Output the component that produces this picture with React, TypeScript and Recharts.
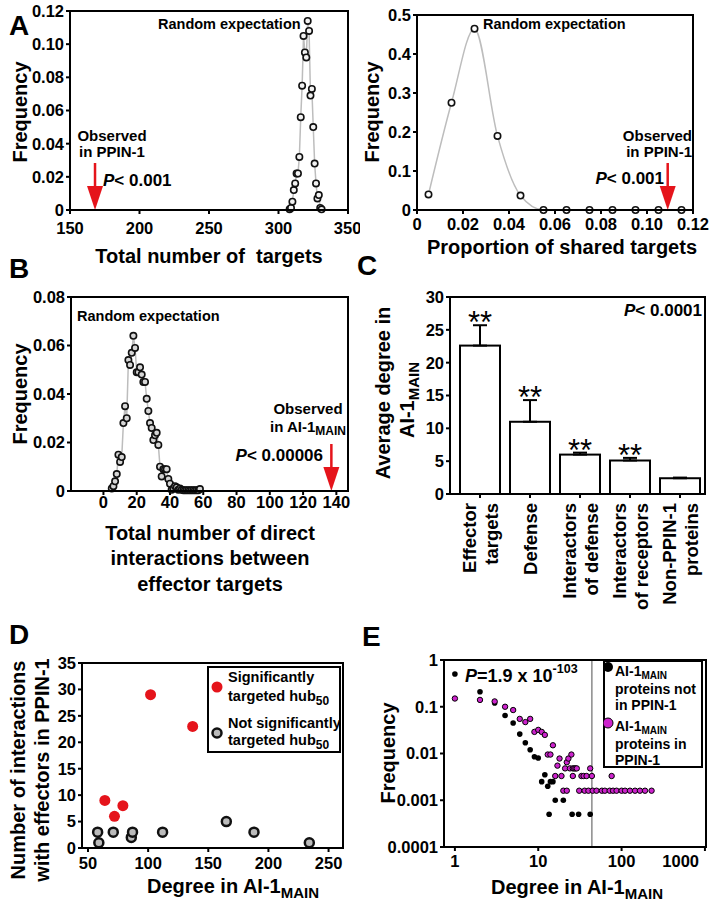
import React from "react";
import { ComposedChart, Line, Scatter, Bar, ErrorBar, XAxis, YAxis, ReferenceLine, Legend } from "recharts";

const FONT = "'Liberation Sans', Arial, Helvetica, sans-serif";
const RED = "#e5141b";
const MAGENTA = "#cc22cc";

// A left: total number of targets (random expectation)
const targetsX = [308, 309, 310, 311, 312, 313, 314, 315, 316, 317, 318, 319, 320, 321, 322, 323, 324, 325, 326, 327, 328, 329, 330, 331];
const targetsFreq = [0.0004, 0.0012, 0.005, 0.012, 0.016, 0.022, 0.022, 0.032, 0.056, 0.075, 0.105, 0.095, 0.092, 0.114, 0.108, 0.069, 0.073, 0.05, 0.028, 0.016, 0.007, 0.009, 0.0012, 0.0004];
const observedTargets = 168;

// A right: proportion of shared targets
const sharedX = [0.005, 0.015, 0.025, 0.035, 0.045, 0.055, 0.065, 0.075, 0.085, 0.095, 0.105, 0.115];
const sharedFreq = [0.04, 0.275, 0.465, 0.19, 0.037, 0, 0, 0, 0, 0, 0, 0];
const observedShared = 0.109;

// B: direct interactions between effector targets
const directX = [5, 6, 7, 8, 9, 10, 11, 12, 13, 14, 15, 16, 17, 18, 19, 20, 21, 22, 23, 24, 25, 26, 27, 28, 29, 30, 31, 32, 33, 34, 35, 36, 37, 38, 39, 40, 41, 42, 43, 44, 45, 46, 47, 48, 49, 50, 51, 52, 53, 54, 55, 56, 57, 58];
const directFreq = [0.001, 0.002, 0.004, 0.007, 0.015, 0.012, 0.014, 0.028, 0.035, 0.03, 0.054, 0.052, 0.057, 0.064, 0.059, 0.049, 0.049, 0.051, 0.048, 0.045, 0.045, 0.038, 0.033, 0.028, 0.026, 0.021, 0.023, 0.024, 0.019, 0.01, 0.006, 0.009, 0.009, 0.009, 0.005, 0.003, 0.0005, 0.001, 0.002, 0.0015, 0.0005, 0.001, 0.0005, 0.0003, 0.0003, 0.0003, 0.0003, 0.0003, 0.0003, 0.0003, 0.0003, 0.0003, 0.0003, 0.0008];
const observedDirect = 137;

// C: average degree
const groups = ["Effector\ntargets", "Defense", "Interactors\nof defense", "Interactors\nof receptors", "Non-PPIN-1\nproteins"];
const avgDegree = [22.6, 11.0, 6.0, 5.1, 2.4];
const semUp = [3.1, 3.3, 0.3, 0.4, 0.1];
const signif = ["**", "**", "**", "**", ""];

// D: hubs
const sigDegree = [64, 72, 79, 102, 137];
const sigInter = [9, 6, 8, 29, 23];
const nsDegree = [58, 59, 71, 86, 87, 112, 165, 188, 234];
const nsInter = [3, 1, 3, 2, 3, 3, 5, 3, 1];

// E: degree distributions
const notPpinDegree = [1, 2, 3, 4, 5, 6, 7, 8, 9, 10, 11, 12, 13, 14, 15, 16, 20, 13.5, 25.5, 30.5, 42];
const notPpinFreq = [0.5, 0.21, 0.12, 0.065, 0.045, 0.026, 0.017, 0.012, 0.0085, 0.008, 0.0025, 0.0035, 0.002, 0.0025, 0.0025, 0.001, 0.001, 0.0005, 0.0005, 0.0005, 0.0005];
const inPpinDegree = [1, 2, 3, 4, 5, 6, 7, 8, 9, 10, 11, 12, 13, 14, 15, 16, 17, 18, 19, 21, 22, 23, 24, 25, 26, 27, 28, 29, 20, 22, 31, 26, 33, 35, 38, 36, 40, 42, 44, 45, 50, 58, 63, 72, 76, 79, 87, 100, 110, 126, 145, 166, 191, 229];
const inPpinFreq = [0.15, 0.14, 0.13, 0.1, 0.085, 0.055, 0.047, 0.055, 0.029, 0.032, 0.029, 0.025, 0.0095, 0.0095, 0.015, 0.0033, 0.0055, 0.0078, 0.0033, 0.0048, 0.0065, 0.0078, 0.0048, 0.0095, 0.0048, 0.0048, 0.0048, 0.0048, 0.0016, 0.0016, 0.0016, 0.0033, 0.0033, 0.0033, 0.0033, 0.0016, 0.0016, 0.0048, 0.0033, 0.0016, 0.0016, 0.0016, 0.0016, 0.0016, 0.0033, 0.0016, 0.0016, 0.0016, 0.0016, 0.0016, 0.0016, 0.0016, 0.0016, 0.0016];
const cutoffDegree = 44;

const pairs = (xs: number[], ys: number[]) => xs.map((x, i) => ({ x, y: ys[i] }));
const aLeftData = pairs(targetsX, targetsFreq);
const aRightData = pairs(sharedX, sharedFreq);
const bData = pairs(directX, directFreq);
const cData = groups.map((name, i) => ({ name, mean: avgDegree[i], err: [0, semUp[i]], star: signif[i] }));
const dSig = pairs(sigDegree, sigInter);
const dNs = pairs(nsDegree, nsInter);
const eNot = pairs(notPpinDegree, notPpinFreq);
const eIn = pairs(inPpinDegree, inPpinFreq);

const tickFont = { fontFamily: FONT, fontWeight: 700, fontSize: 16.5, fill: "#000" };
const stroke2 = { stroke: "#000", strokeWidth: 2 };
const ax = { axisLine: stroke2, tickLine: stroke2, tickSize: 4, tick: tickFont };
const fmt2 = (v: number) => (v === 0 ? "0" : v.toFixed(2));
const fmt1 = (v: number) => (v === 0 ? "0" : v.toFixed(1));

const Arrow = (p: any) => (
  <g>
    <line x1={p.cx} y1={p.cy - 47} x2={p.cx} y2={p.cy - 20} stroke={RED} strokeWidth={2.5} />
    <polygon points={`${p.cx - 8},${p.cy - 24} ${p.cx + 8},${p.cy - 24} ${p.cx},${p.cy}`} fill={RED} />
  </g>
);

const openDot = (fill: string) => ({ r: 3.2, fill, stroke: "#111", strokeWidth: 1.6 });

const StarBar = (p: any) => {
  const { x, y, width, height, payload } = p;
  const perUnit = payload.mean ? height / payload.mean : 0;
  const errTop = y - payload.err[1] * perUnit;
  return (
    <g>
      <rect x={x} y={y} width={width} height={height} fill="#fff" stroke="#000" strokeWidth={2} />
      {payload.star ? (
        <text x={x + width / 2} y={errTop + 8} textAnchor="middle" fontSize={31} fontFamily={FONT} fill="#000">
          {payload.star}
        </text>
      ) : null}
    </g>
  );
};

const CTick = (p: any) => {
  const lines = String(p.payload.value).split("\n");
  const off = lines.length === 1 ? [0] : [-11, 11];
  return (
    <g transform={`translate(${p.x},${p.y})`}>
      {lines.map((t, i) => (
        <text key={i} transform="rotate(-90)" x={-3} y={off[i]} textAnchor="end" dominantBaseline="central" fontSize={18.5} fontWeight={700} fontFamily={FONT} fill="#000">
          {t}
        </text>
      ))}
    </g>
  );
};

// log x ticks of panel E: the last label is kept inside the frame, as in the original
const ETick = (p: any) => {
  const last = p.payload.value === 1000;
  return (
    <text x={last ? p.x + 5 : p.x} y={p.y} dy={12} textAnchor={last ? "end" : "middle"} {...tickFont}>
      {p.payload.value}
    </text>
  );
};

const txt = { fontFamily: FONT, fontWeight: 700, fill: "#000" };

const DLegend = () => (
  <svg width={134} height={87}>
    <rect x={1} y={1} width={132} height={85} fill="#fff" stroke="#000" strokeWidth={2} />
    <circle cx={10} cy={21} r={5.5} fill={RED} />
    <circle cx={10} cy={67} r={4.5} fill="#bbb" stroke="#111" strokeWidth={2.5} />
    <text x={21} y={11} fontSize={14.5} dominantBaseline="central" {...txt}>Significantly</text>
    <text x={21} y={30} fontSize={14.5} dominantBaseline="central" {...txt}>targeted hub<tspan dy={5} fontSize={12}>50</tspan></text>
    <text x={21} y={57} fontSize={14.5} dominantBaseline="central" {...txt}>Not significantly</text>
    <text x={21} y={74} fontSize={14.5} dominantBaseline="central" {...txt}>targeted hub<tspan dy={5} fontSize={12}>50</tspan></text>
  </svg>
);

const ELegend = () => (
  <svg width={100} height={108}>
    <rect x={1} y={1} width={98} height={106} fill="#fff" stroke="#000" strokeWidth={2} />
    <circle cx={5} cy={7} r={5} fill="#000" />
    <circle cx={5} cy={63} r={5} fill={MAGENTA} stroke="#000" strokeWidth={1} />
    <text x={12} y={11} fontSize={14} dominantBaseline="central" {...txt}>AI-1<tspan dy={4} fontSize={10}>MAIN</tspan></text>
    <text x={12} y={29} fontSize={14} dominantBaseline="central" {...txt}>proteins not</text>
    <text x={12} y={45} fontSize={14} dominantBaseline="central" {...txt}>in PPIN-1</text>
    <text x={12} y={66} fontSize={14} dominantBaseline="central" {...txt}>AI-1<tspan dy={4} fontSize={10}>MAIN</tspan></text>
    <text x={12} y={84} fontSize={14} dominantBaseline="central" {...txt}>proteins in</text>
    <text x={12} y={100} fontSize={14} dominantBaseline="central" {...txt}>PPIN-1</text>
  </svg>
);

function T({ x, y, size = 20, anchor = "middle", rotate, children }: any) {
  return (
    <text
      x={x}
      y={y}
      fontSize={size}
      fontFamily={FONT}
      fontWeight={700}
      textAnchor={anchor}
      dominantBaseline="central"
      fill="#000"
      style={{ whiteSpace: "pre" }}
      transform={rotate ? `rotate(${rotate} ${x} ${y})` : undefined}
    >
      {children}
    </text>
  );
}

const P = () => <tspan fontStyle="italic">P</tspan>;

export default function App() {
  return (
    <div style={{ position: "absolute", left: 0, top: 0, width: 720, height: 910, background: "#fff", overflow: "hidden" }}>
      {/* A left */}
      <div style={{ position: "absolute", left: 0, top: 0 }}>
        <ComposedChart width={360} height={240} data={aLeftData} margin={{ top: 11, right: 12, bottom: 0, left: 0 }}>
          <XAxis type="number" dataKey="x" domain={[150, 350]} ticks={[150, 200, 250, 300, 350]} height={30} tickMargin={8} {...ax} />
          <YAxis type="number" dataKey="y" domain={[0, 0.12]} ticks={[0, 0.02, 0.04, 0.06, 0.08, 0.1, 0.12]} width={70} tickFormatter={fmt2} {...ax} />
          <Line dataKey="y" type="linear" stroke="#bdbdbd" strokeWidth={1.5} dot={openDot("#f2f2f2")} activeDot={false} isAnimationActive={false} />
          <Scatter data={[{ x: observedTargets, y: 0 }]} dataKey="y" shape={Arrow} isAnimationActive={false} />
        </ComposedChart>
      </div>

      {/* A right */}
      <div style={{ position: "absolute", left: 347, top: 0 }}>
        <ComposedChart width={370} height={240} data={aRightData} margin={{ top: 15, right: 24, bottom: 0, left: 0 }}>
          <XAxis type="number" dataKey="x" domain={[0, 0.12]} ticks={[0, 0.02, 0.04, 0.06, 0.08, 0.1, 0.12]} tickFormatter={fmt2} height={30} tickMargin={4} {...ax} />
          <YAxis type="number" dataKey="y" domain={[0, 0.5]} ticks={[0, 0.1, 0.2, 0.3, 0.4, 0.5]} tickFormatter={fmt1} width={70} {...ax} />
          <Line dataKey="y" type="monotone" stroke="#bdbdbd" strokeWidth={1.5} dot={openDot("#fff")} activeDot={false} isAnimationActive={false} />
          <Scatter data={[{ x: observedShared, y: 0 }]} dataKey="y" shape={Arrow} isAnimationActive={false} />
        </ComposedChart>
      </div>

      {/* B */}
      <div style={{ position: "absolute", left: 0, top: 260 }}>
        <ComposedChart width={360} height={261} data={bData} margin={{ top: 37, right: 12, bottom: 0, left: 0 }}>
          <XAxis type="number" dataKey="x" domain={[-19.5, 147]} ticks={[0, 20, 40, 60, 80, 100, 120, 140]} height={30} tickMargin={1} {...ax} />
          <YAxis type="number" dataKey="y" domain={[0, 0.08]} ticks={[0, 0.02, 0.04, 0.06, 0.08]} tickFormatter={fmt2} width={71} {...ax} />
          <Line dataKey="y" type="linear" stroke="#bdbdbd" strokeWidth={1.5} dot={openDot("#d6d6d6")} activeDot={false} isAnimationActive={false} />
          <Scatter data={[{ x: observedDirect, y: 0 }]} dataKey="y" shape={Arrow} isAnimationActive={false} />
        </ComposedChart>
      </div>

      {/* C */}
      <div style={{ position: "absolute", left: 360, top: 280 }}>
        <ComposedChart width={349} height={344} data={cData} margin={{ top: 17, right: 4, bottom: 0, left: 0 }}>
          <XAxis dataKey="name" type="category" height={130} padding={{ left: 5, right: 0 }} axisLine={stroke2} tickLine={stroke2} tickSize={4} tick={<CTick />} interval={0} />
          <YAxis type="number" domain={[0, 30]} ticks={[0, 5, 10, 15, 20, 25, 30]} width={90} {...ax} />
          <Bar dataKey="mean" barSize={40} shape={<StarBar />} isAnimationActive={false}>
            <ErrorBar dataKey="err" width={7} stroke="#000" strokeWidth={2} direction="y" />
          </Bar>
        </ComposedChart>
      </div>

      {/* D */}
      <div style={{ position: "absolute", left: 0, top: 640 }}>
        <ComposedChart width={360} height={238} margin={{ top: 23, right: 17, bottom: 0, left: 0 }}>
          <XAxis type="number" dataKey="x" domain={[45, 262]} ticks={[50, 100, 150, 200, 250]} height={30} tickMargin={5} {...ax} />
          <YAxis type="number" dataKey="y" domain={[0, 35]} ticks={[0, 5, 10, 15, 20, 25, 30, 35]} width={82} {...ax} />
          <Scatter data={dNs} dataKey="y" isAnimationActive={false} shape={(p: any) => <circle cx={p.cx} cy={p.cy} r={4.5} fill="#bbb" stroke="#111" strokeWidth={2.5} />} />
          <Scatter data={dSig} dataKey="y" isAnimationActive={false} shape={(p: any) => <circle cx={p.cx} cy={p.cy} r={5.5} fill={RED} />} />
          <Legend layout="horizontal" verticalAlign="middle" align="center" wrapperStyle={{ left: 207, top: 26, width: 134, height: 87 }} content={() => <DLegend />} />
        </ComposedChart>
      </div>

      {/* E */}
      <div style={{ position: "absolute", left: 360, top: 640 }}>
        <ComposedChart width={350} height={237} margin={{ top: 20, right: 4, bottom: 0, left: 0 }}>
          <XAxis type="number" dataKey="x" scale="log" domain={[0.74, 1030]} ticks={[1, 10, 100, 1000]} allowDataOverflow height={30} tickMargin={4} axisLine={stroke2} tickLine={stroke2} tickSize={4} tick={<ETick />} />
          <YAxis type="number" dataKey="y" scale="log" domain={[0.0001, 1]} ticks={[0.0001, 0.001, 0.01, 0.1, 1]} allowDataOverflow tickFormatter={(v: number) => String(v)} width={84} {...ax} />
          <ReferenceLine x={cutoffDegree} stroke="#8a8a8a" strokeWidth={1.5} />
          <Scatter data={eNot} dataKey="y" isAnimationActive={false} shape={(p: any) => <circle cx={p.cx} cy={p.cy} r={2.8} fill="#000" />} />
          <Scatter data={eIn} dataKey="y" isAnimationActive={false} shape={(p: any) => <circle cx={p.cx} cy={p.cy} r={2.7} fill={MAGENTA} stroke="#000" strokeWidth={1} />} />
          <Legend layout="horizontal" verticalAlign="middle" align="center" wrapperStyle={{ left: 243, top: 20, width: 100, height: 108 }} content={() => <ELegend />} />
        </ComposedChart>
      </div>

      {/* frames, titles and annotations */}
      <svg width={720} height={910} style={{ position: "absolute", left: 0, top: 0, pointerEvents: "none" }}>
        <g fill="none" stroke="#000" strokeWidth={2}>
          <rect x={70} y={11} width={278} height={199} />
          <rect x={417} y={15} width={276} height={195} />
          <rect x={71} y={297} width={277} height={194} />
          <rect x={450} y={297} width={255} height={197} />
          <rect x={82} y={663} width={261} height={185} />
          <rect x={444} y={660} width={262} height={187} />
        </g>

        <T x={9} y={25} size={28} anchor="start">A</T>
        <T x={9} y={268} size={28} anchor="start">B</T>
        <T x={357} y={265} size={28} anchor="start">C</T>
        <T x={9} y={634} size={28} anchor="start">D</T>
        <T x={362} y={636} size={28} anchor="start">E</T>

        {/* A left */}
        <T x={20} y={112} rotate={-90}>Frequency</T>
        <T x={209} y={256}>Total number of  targets</T>
        <T x={158} y={24} size={14.5} anchor="start">Random expectation</T>
        <T x={112} y={135} size={15}>Observed</T>
        <T x={112} y={151} size={15}>in PPIN-1</T>
        <T x={103} y={180} size={17} anchor="start"><P />{"< 0.001"}</T>

        {/* A right */}
        <T x={372} y={112} rotate={-90}>Frequency</T>
        <T x={562} y={247}>Proportion of shared targets</T>
        <T x={483} y={24} size={14.5} anchor="start">Random expectation</T>
        <T x={692} y={135} size={15} anchor="end">Observed</T>
        <T x={692} y={151} size={15} anchor="end">in PPIN-1</T>
        <T x={664} y={178} size={17} anchor="end"><P />{"< 0.001"}</T>

        {/* B */}
        <T x={20} y={394} rotate={-90}>Frequency</T>
        <T x={210} y={533}>Total number of direct</T>
        <T x={210} y={558}>interactions between</T>
        <T x={210} y={584}>effector targets</T>
        <T x={77} y={316} size={14.5} anchor="start">Random expectation</T>
        <T x={308} y={408} size={15}>Observed</T>
        <T x={308} y={426} size={15}>in AI-1<tspan dy={5} fontSize={12}>MAIN</tspan></T>
        <T x={323} y={455} size={17} anchor="end"><P />{"< 0.00006"}</T>

        {/* C */}
        <T x={383} y={393} rotate={-90}>Average degree in</T>
        <T x={407} y={400} rotate={-90}>AI-1<tspan dy={6} fontSize={15}>MAIN</tspan></T>
        <T x={702} y={310} size={17} anchor="end"><P />{"< 0.0001"}</T>

        {/* D */}
        <T x={18} y={770} rotate={-90}>Number of interactions</T>
        <T x={42} y={770} rotate={-90}>with effectors in PPIN-1</T>
        <T x={233} y={886}>Degree in AI-1<tspan dy={6} fontSize={15}>MAIN</tspan></T>

        {/* E */}
        <T x={388} y={753} rotate={-90}>Frequency</T>
        <T x={577} y={887}>Degree in AI-1<tspan dy={6} fontSize={15}>MAIN</tspan></T>
        <T x={465} y={676} size={18} anchor="start"><P />{"=1.9 x 10"}<tspan dy={-7} fontSize={12.5}>-103</tspan></T>
      </svg>
    </div>
  );
}
